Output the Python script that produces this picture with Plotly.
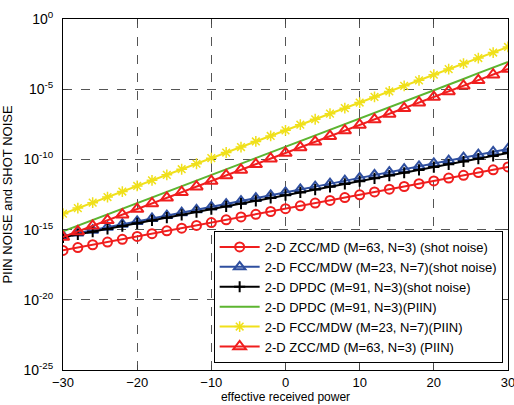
import numpy as np
import plotly.graph_objects as go

# x axis: effective received power
power = list(range(-30, 31, 2))

# log10 of noise values (31 points each)
zcc_shot_log = [-16.48, -16.28, -16.08, -15.89, -15.69, -15.49, -15.29, -15.09, -14.90, -14.70,
                -14.50, -14.30, -14.10, -13.91, -13.71, -13.51, -13.31, -13.11, -12.92, -12.72,
                -12.52, -12.32, -12.12, -11.93, -11.73, -11.53, -11.33, -11.13, -10.94, -10.74, -10.54]
fcc_shot_log = [-15.45, -15.24, -15.04, -14.83, -14.62, -14.42, -14.21, -14.00, -13.80, -13.59,
                -13.38, -13.18, -12.97, -12.76, -12.56, -12.35, -12.14, -11.94, -11.73, -11.52,
                -11.32, -11.11, -10.90, -10.70, -10.49, -10.28, -10.08, -9.87, -9.66, -9.46, -9.25]
dpdc_shot_log = [-15.55, -15.35, -15.15, -14.95, -14.75, -14.55, -14.35, -14.15, -13.95, -13.75,
                 -13.55, -13.35, -13.15, -12.95, -12.75, -12.55, -12.35, -12.15, -11.95, -11.75,
                 -11.55, -11.35, -11.15, -10.95, -10.75, -10.55, -10.35, -10.15, -9.95, -9.75, -9.55]
dpdc_piin_log = [-15.13, -14.73, -14.33, -13.92, -13.52, -13.12, -12.72, -12.31, -11.91, -11.51,
                 -11.11, -10.70, -10.30, -9.90, -9.50, -9.10, -8.69, -8.29, -7.89, -7.49,
                 -7.08, -6.68, -6.28, -5.88, -5.47, -5.07, -4.67, -4.27, -3.86, -3.46, -3.06]
fcc_piin_log = [-13.87, -13.47, -13.08, -12.68, -12.29, -11.89, -11.49, -11.10, -10.70, -10.31,
                -9.91, -9.51, -9.12, -8.72, -8.33, -7.93, -7.53, -7.14, -6.74, -6.35,
                -5.95, -5.55, -5.16, -4.76, -4.37, -3.97, -3.57, -3.18, -2.78, -2.39, -1.99]
zcc_piin_log = [-15.53, -15.13, -14.73, -14.34, -13.94, -13.54, -13.14, -12.74, -12.34, -11.94,
                -11.54, -11.14, -10.75, -10.35, -9.95, -9.55, -9.15, -8.75, -8.35, -7.95,
                -7.55, -7.16, -6.76, -6.36, -5.96, -5.56, -5.16, -4.76, -4.37, -3.97, -3.56]

series_names = [
    "2-D ZCC/MD (M=63, N=3) (shot noise)",
    "2-D FCC/MDW (M=23, N=7)(shot noise)",
    "2-D DPDC (M=91, N=3)(shot noise)",
    "2-D DPDC (M=91, N=3)(PIIN)",
    "2-D FCC/MDW (M=23, N=7)(PIIN)",
    "2-D ZCC/MD (M=63, N=3) (PIIN)",
]
y_tick_exps = [0, -5, -10, -15, -20, -25]
x_ticks = [-30, -20, -10, 0, 10, 20, 30]

series_logs = [zcc_shot_log, fcc_shot_log, dpdc_shot_log, dpdc_piin_log, fcc_piin_log, zcc_piin_log]
styles = [
    dict(color="#f01e1e", symbol="circle-open", size=9, mode="lines+markers", mw=2),
    dict(color="#2f4f9f", symbol="triangle-up-open", size=10, mode="lines+markers", mw=2),
    dict(color="#000000", symbol="cross-thin-open", size=8, mode="lines+markers", mw=2),
    dict(color="#5cb530", symbol="circle", size=1, mode="lines", mw=1),
    dict(color="#f0e01a", symbol="asterisk-open", size=9, mode="lines+markers", mw=1.5),
    dict(color="#f01e1e", symbol="triangle-up-open", size=11, mode="lines+markers", mw=2),
]

fig = go.Figure()
for name, logs, st in zip(series_names, series_logs, styles):
    vals = np.power(10.0, np.array(logs))
    fig.add_trace(go.Scatter(
        x=power, y=vals, name=name, mode=st["mode"],
        line=dict(color=st["color"], width=2),
        marker=dict(symbol=st["symbol"], size=st["size"], color=st["color"],
                    line=dict(color=st["color"], width=st["mw"])),
    ))

font_family = "Liberation Sans, Arial, sans-serif"
fig.update_layout(
    width=514, height=405,
    margin=dict(l=63, r=6, t=19, b=35, autoexpand=False),
    paper_bgcolor="white", plot_bgcolor="white",
    font=dict(family=font_family, size=12, color="black"),
    showlegend=True,
    legend=dict(
        x=0.988, y=0.02, xanchor="right", yanchor="bottom",
        bgcolor="white", bordercolor="black", borderwidth=1,
        font=dict(size=13, family=font_family), itemwidth=40,
        tracegroupgap=0,
    ),
    xaxis=dict(
        range=[-30, 30], tickvals=x_ticks, ticks="inside", ticklen=5,
        showline=True, linecolor="black", linewidth=1, mirror="allticks",
        showgrid=True, gridcolor="#555555", griddash="dash", gridwidth=1,
        zeroline=False, tickfont=dict(size=13), automargin=False,
        ticklabeloverflow="allow",
        title=dict(text="effective received power", font=dict(size=12), standoff=3),
    ),
    yaxis=dict(
        type="log", range=[-25, 0],
        tickvals=[10.0 ** e for e in y_tick_exps],
        ticktext=["10<sup>%d</sup>" % e for e in y_tick_exps],
        ticks="inside", ticklen=5, automargin=False,
        showline=True, linecolor="black", linewidth=1, mirror="allticks",
        showgrid=True, gridcolor="#555555", griddash="dash", gridwidth=1,
        zeroline=False, tickfont=dict(size=14), ticklabeloverflow="allow",
        ticklabelstandoff=6,
        title=dict(text="PIIN NOISE and SHOT NOISE", font=dict(size=13)),
    ),
)

fig.write_html("out.html", config={"displayModeBar": False},
               post_script="document.body.style.margin='0';")
